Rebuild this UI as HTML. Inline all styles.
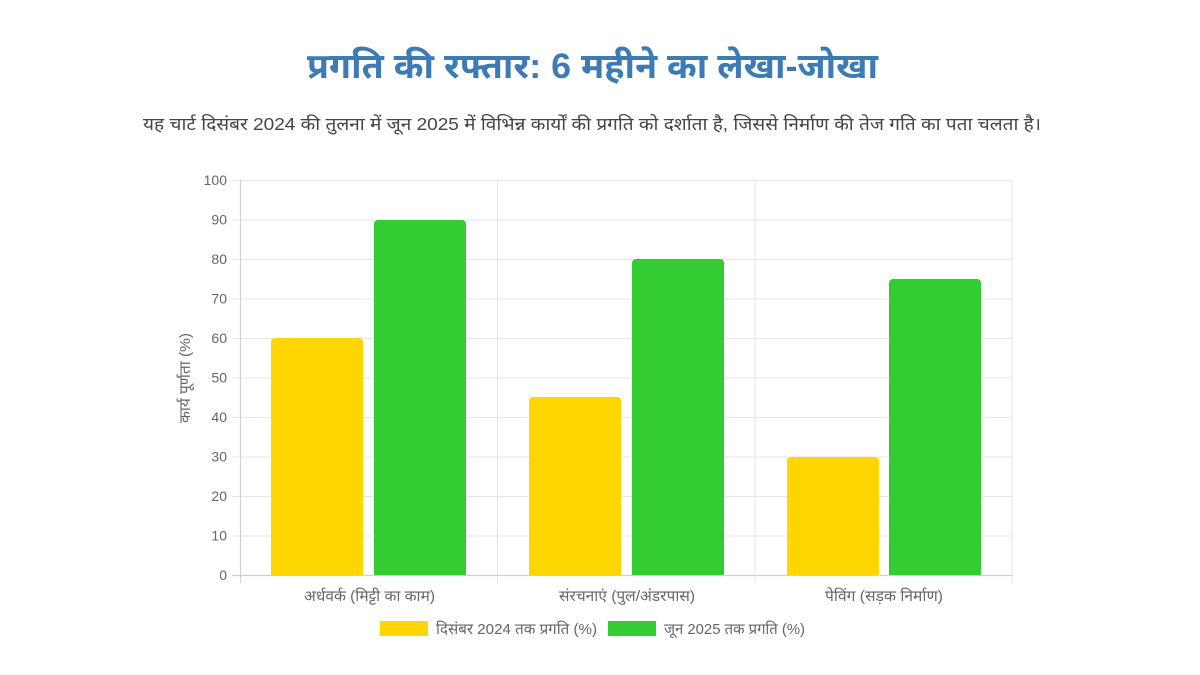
<!DOCTYPE html>
<html><head><meta charset="utf-8"><style>
html,body{margin:0;padding:0;background:#fff;width:1200px;height:675px;overflow:hidden;}
svg{position:absolute;left:0;top:0;}
</style></head><body>
<svg width="1200" height="675" xmlns="http://www.w3.org/2000/svg" font-family="Liberation Sans, Noto Sans Devanagari, Lohit Devanagari, sans-serif">
<text x="307" y="78" font-size="35" font-weight="bold" fill="#3d7bb6" textLength="571" lengthAdjust="spacingAndGlyphs">प्रगति की रफ्तार: 6 महीने का लेखा-जोखा</text>
<text x="143" y="130" font-size="17.5" fill="#444" textLength="898" lengthAdjust="spacingAndGlyphs">यह चार्ट दिसंबर 2024 की तुलना में जून 2025 में विभिन्न कार्यों की प्रगति को दर्शाता है, जिससे निर्माण की तेज गति का पता चलता है।</text>
<g stroke="#e6e6e6" stroke-width="1">
<line x1="232" y1="180.5" x2="1012" y2="180.5"/>
<line x1="232" y1="220" x2="1012" y2="220"/>
<line x1="232" y1="259.5" x2="1012" y2="259.5"/>
<line x1="232" y1="299" x2="1012" y2="299"/>
<line x1="232" y1="338.5" x2="1012" y2="338.5"/>
<line x1="232" y1="378" x2="1012" y2="378"/>
<line x1="232" y1="417.5" x2="1012" y2="417.5"/>
<line x1="232" y1="457" x2="1012" y2="457"/>
<line x1="232" y1="496.5" x2="1012" y2="496.5"/>
<line x1="232" y1="536" x2="1012" y2="536"/>
<line x1="497.5" y1="180" x2="497.5" y2="583"/>
<line x1="755" y1="180" x2="755" y2="583"/>
<line x1="1012" y1="180" x2="1012" y2="583"/>
</g>
<g stroke="#d0d0d0" stroke-width="1.2">
<line x1="240.5" y1="180" x2="240.5" y2="583"/>
<line x1="232" y1="575.5" x2="1012" y2="575.5"/>
</g>
<g fill="#ffd600">
<path d="M271,575V342a4,4 0 0 1 4,-4H359a4,4 0 0 1 4,4V575Z"/>
<path d="M529,575V401a4,4 0 0 1 4,-4H617a4,4 0 0 1 4,4V575Z"/>
<path d="M787,575V461a4,4 0 0 1 4,-4H875a4,4 0 0 1 4,4V575Z"/>
</g>
<g fill="#33cc33">
<path d="M374,575V224a4,4 0 0 1 4,-4H462a4,4 0 0 1 4,4V575Z"/>
<path d="M632,575V263a4,4 0 0 1 4,-4H720a4,4 0 0 1 4,4V575Z"/>
<path d="M889,575V283a4,4 0 0 1 4,-4H977a4,4 0 0 1 4,4V575Z"/>
</g>
<g font-size="14" fill="#666" text-anchor="end">
<text x="227" y="185">100</text>
<text x="227" y="224.5">90</text>
<text x="227" y="264">80</text>
<text x="227" y="303.5">70</text>
<text x="227" y="343">60</text>
<text x="227" y="382.5">50</text>
<text x="227" y="422">40</text>
<text x="227" y="461.5">30</text>
<text x="227" y="501">20</text>
<text x="227" y="540.5">10</text>
<text x="227" y="580">0</text>
</g>
<text transform="translate(190,423) rotate(-90)" font-size="15" fill="#666" textLength="90" lengthAdjust="spacingAndGlyphs">कार्य पूर्णता (%)</text>
<g font-size="15" fill="#666">
<text x="304" y="601" textLength="131" lengthAdjust="spacingAndGlyphs">अर्धवर्क (मिट्टी का काम)</text>
<text x="559" y="601" textLength="136" lengthAdjust="spacingAndGlyphs">संरचनाएं (पुल/अंडरपास)</text>
<text x="825" y="601" textLength="118" lengthAdjust="spacingAndGlyphs">पेविंग (सड़क निर्माण)</text>
</g>
<rect x="380" y="621" width="48" height="15" fill="#ffd600"/>
<text x="436" y="634" font-size="15" fill="#666" textLength="161" lengthAdjust="spacingAndGlyphs">दिसंबर 2024 तक प्रगति (%)</text>
<rect x="608" y="621" width="48" height="15" fill="#33cc33"/>
<text x="664" y="634" font-size="15" fill="#666" textLength="141" lengthAdjust="spacingAndGlyphs">जून 2025 तक प्रगति (%)</text>
</svg>
</body></html>
